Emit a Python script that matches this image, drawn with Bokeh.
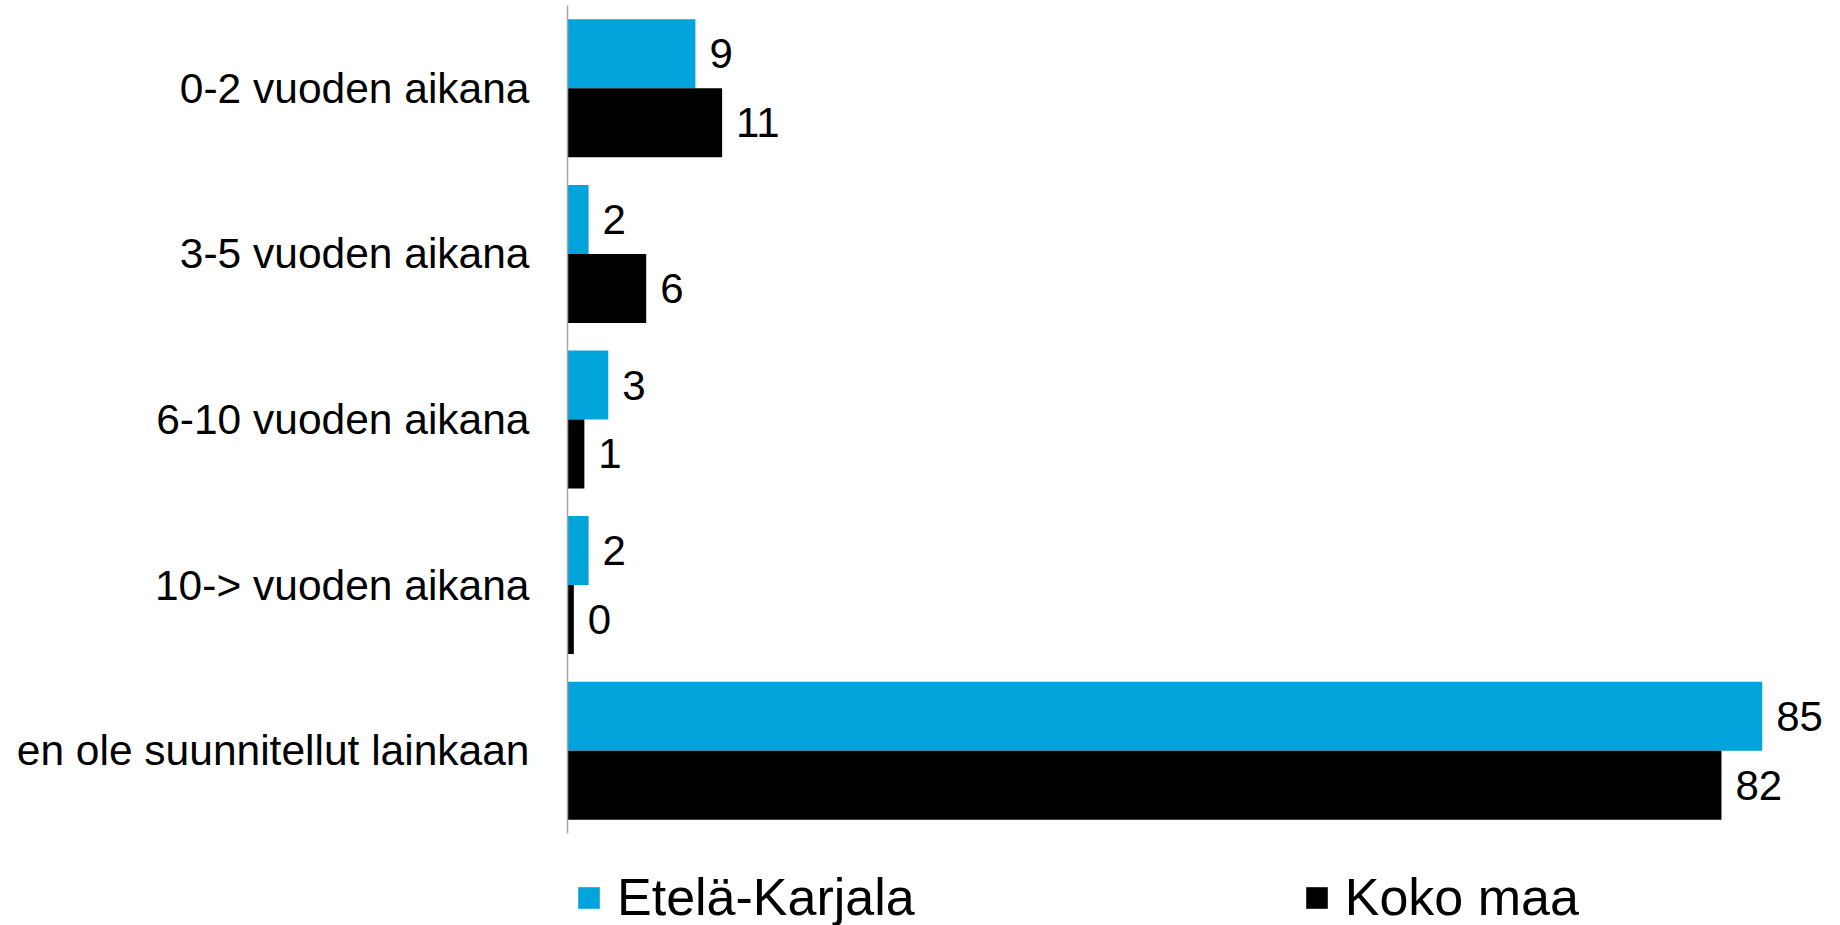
from bokeh.plotting import figure
from bokeh.layouts import column
from bokeh.models import ColumnDataSource, Legend, LegendItem, FactorRange, Range1d
from bokeh.transform import dodge
from bokeh.core.properties import value
from bokeh.embed import file_html
from bokeh.resources import INLINE

categories = ["0-2 vuoden aikana", "3-5 vuoden aikana", "6-10 vuoden aikana",
              "10-> vuoden aikana", "en ole suunnitellut lainkaan"]
etela_karjala = [9.1, 1.5, 2.9, 1.5, 85.0]
koko_maa = [11.0, 5.6, 1.2, 0.45, 82.1]
etela_karjala_labels = ["9", "2", "3", "2", "85"]
koko_maa_labels = ["11", "6", "1", "0", "82"]
series_names = ["Etelä-Karjala", "Koko maa"]
series_colors = ["#00A3DA", "#000000"]

FONT = "Liberation Sans"

src = ColumnDataSource(dict(cat=categories, ek=etela_karjala, km=koko_maa,
                            ek_txt=etela_karjala_labels, km_txt=koko_maa_labels))

p = figure(width=1838, height=835,
           y_range=FactorRange(*reversed(categories)),
           x_range=Range1d(0, 90),
           output_backend="svg", toolbar_location=None,
           x_axis_location=None,
           min_border_left=567, min_border_right=6,
           min_border_top=5, min_border_bottom=2)

bh = 0.4167
off = 0.2083
r1 = p.hbar(y=dodge("cat", off, range=p.y_range), right="ek", left=0, height=bh,
            fill_color=series_colors[0], line_color=None, source=src)
r2 = p.hbar(y=dodge("cat", -off, range=p.y_range), right="km", left=0, height=bh,
            fill_color=series_colors[1], line_color=None, source=src)

p.text(x="ek", y=dodge("cat", off, range=p.y_range), text="ek_txt", x_offset=14,
       text_baseline="middle", text_align="left", text_font=value(FONT),
       text_font_size="42px", text_color="#000000", source=src)
p.text(x="km", y=dodge("cat", -off, range=p.y_range), text="km_txt", x_offset=14,
       text_baseline="middle", text_align="left", text_font=value(FONT),
       text_font_size="42px", text_color="#000000", source=src)

p.yaxis.axis_line_color = "#A6A6A6"
p.yaxis.axis_line_width = 1.5
p.yaxis.major_tick_line_color = None
p.yaxis.minor_tick_line_color = None
p.yaxis.major_tick_out = 0
p.yaxis.major_tick_in = 0
p.yaxis.major_label_standoff = 38
p.yaxis.major_label_text_font = FONT
p.yaxis.major_label_text_font_size = "42.5px"
p.yaxis.major_label_text_color = "#000000"

p.xgrid.grid_line_color = None
p.ygrid.grid_line_color = None
p.outline_line_color = None
p.y_range.range_padding = 0

# legend strip below the chart
q = figure(width=1838, height=90, x_range=Range1d(0, 1), y_range=Range1d(0, 1),
           output_backend="svg", toolbar_location=None,
           x_axis_location=None, y_axis_location=None,
           min_border_left=0, min_border_right=0, min_border_top=0, min_border_bottom=0)
q.xgrid.grid_line_color = None
q.ygrid.grid_line_color = None
q.outline_line_color = None
l1 = q.hbar(y="ek", right="ek", height=0.1, fill_color=series_colors[0],
            line_color=None, source=src, visible=False)
l2 = q.hbar(y="km", right="km", height=0.1, fill_color=series_colors[1],
            line_color=None, source=src, visible=False)

legend = Legend(items=[LegendItem(label=series_names[0], renderers=[l1]),
                       LegendItem(label=series_names[1], renderers=[l2])],
                location=(8, -2), orientation="horizontal",
                padding=0, margin=0, spacing=388,
                glyph_width=27, glyph_height=27, label_standoff=15,
                label_text_font=FONT, label_text_font_size="52px",
                label_text_color="#000000",
                border_line_color=None, background_fill_alpha=0)
q.add_layout(legend, "center")

layout = column(p, q, spacing=0)
open("out.html", "w").write(file_html(layout, INLINE))
